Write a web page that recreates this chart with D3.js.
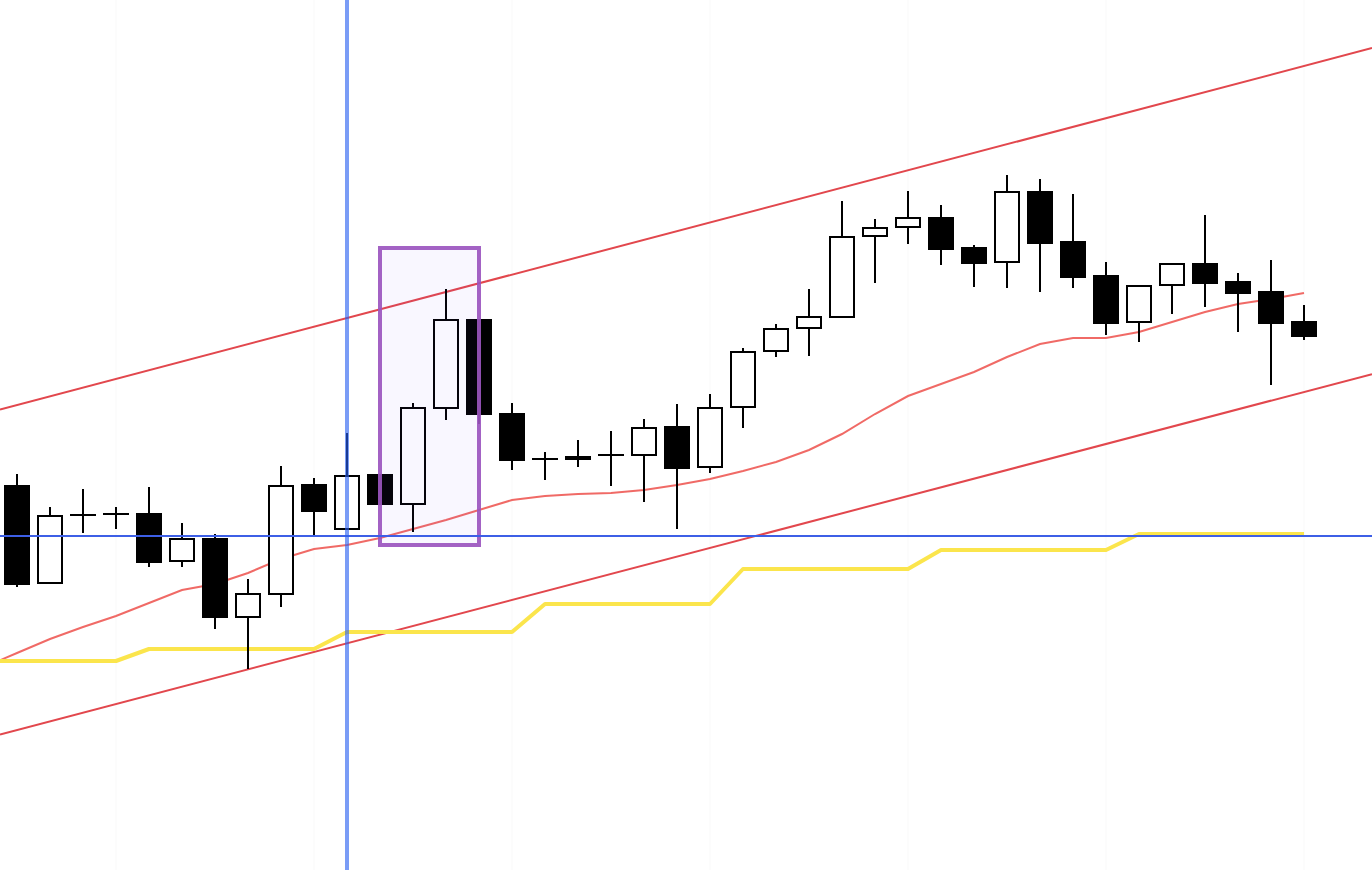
<!DOCTYPE html>
<html>
<head>
<meta charset="utf-8">
<script src="https://cdn.jsdelivr.net/npm/d3@7"></script>
<style>
html,body{margin:0;padding:0;background:#fff;overflow:hidden;}
svg{display:block;}
</style>
</head>
<body>
<svg id="chart" width="1372" height="870"></svg>
<script>
// ---- data ----
const opens  = [147.14,146.17,146.85,146.86,146.86,146.39,146.61,145.83,146.06,147.15,146.71,147.25,146.96,147.92,148.80,147.86,147.41,147.43,147.45,147.45,147.73,147.33,147.93,148.49,148.72,148.83,149.64,149.73,149.82,149.52,149.38,150.08,149.58,149.24,148.78,149.15,149.36,149.18,149.08,148.78];
const highs  = [147.26,146.93,147.11,146.93,147.13,146.77,146.66,146.21,147.34,147.22,147.67,147.25,147.97,149.11,148.80,147.97,147.48,147.60,147.69,147.81,147.96,148.06,148.52,148.76,149.11,149.99,149.81,150.09,149.95,149.55,150.25,150.21,150.06,149.38,149.14,149.36,149.85,149.27,149.40,148.95];
const lows   = [146.13,146.16,146.67,146.71,146.33,146.33,145.71,145.31,145.93,146.64,146.71,146.96,146.68,147.80,147.76,147.30,147.20,147.33,147.14,146.98,146.71,147.27,147.72,148.43,148.44,148.82,149.17,149.56,149.35,149.13,149.12,149.08,149.12,148.65,148.58,148.86,148.93,148.68,148.15,148.60];
const closes = [146.16,146.84,146.85,146.86,146.38,146.61,145.83,146.06,147.14,146.89,147.24,146.96,147.92,148.80,147.86,147.40,147.41,147.41,147.45,147.72,147.32,147.92,148.48,148.71,148.83,149.63,149.72,149.82,149.51,149.37,150.08,149.57,149.23,148.77,149.14,149.36,149.17,149.07,148.77,148.64];
// moving average, starting one bar before the first visible candle (index -1)
const maValues = [145.33,145.47,145.61,145.73,145.84,145.97,146.10,146.16,146.27,146.41,146.51,146.55,146.62,146.71,146.80,146.90,147.00,147.04,147.06,147.07,147.10,147.15,147.21,147.29,147.38,147.50,147.66,147.86,148.04,148.16,148.28,148.43,148.56,148.62,148.62,148.68,148.78,148.88,148.96,149.01,149.07];
// stepped yellow line, also starting at index -1
const stepValues = [145.39,145.39,145.39,145.39,145.39,145.51,145.51,145.51,145.51,145.51,145.51,145.68,145.68,145.68,145.68,145.68,145.68,145.96,145.96,145.96,145.96,145.96,145.96,146.31,146.31,146.31,146.31,146.31,146.31,146.50,146.50,146.50,146.50,146.50,146.50,146.66,146.66,146.66,146.66,146.66,146.66];
// channel lines: [index, price] anchors
const upperChannel = [[0,147.95],[39,151.34]];
const lowerChannel = [[0,144.70],[39,148.08]];
const hLevel = 146.64;
const vLineIndex = 10;
const boxIndexRange = [11,14];
const boxPriceRange = [146.55,149.52];
const gridIndices = [3,9,15,21,27,33,39];
const priceDomain = [143.30,152.00];

// ---- drawing ----
const W = 1372, H = 870;
const svg = d3.select("#chart");
const x = d3.scaleLinear().domain([0,39]).range([17,1304]);
const y = d3.scaleLinear().domain(priceDomain).range([H,0]);
const bodyW = 24;

const candles = opens.map((o,i)=>({i,o,h:highs[i],l:lows[i],c:closes[i]}));

// faint grid
svg.append("g").selectAll("line").data(gridIndices).join("line")
  .attr("x1",d=>x(d)).attr("x2",d=>x(d)).attr("y1",0).attr("y2",H)
  .attr("stroke","#f9f9f9").attr("stroke-width",1);

// channel lines extended across the whole chart
function channel(anchors){
  const [a,b] = anchors;
  const slope = (b[1]-a[1])/(b[0]-a[0]);
  const i0 = x.invert(0), i1 = x.invert(W);
  return [[i0, a[1]+slope*(i0-a[0])],[i1, a[1]+slope*(i1-a[0])]];
}
const lineGen = d3.line().x(d=>x(d[0])).y(d=>y(d[1]));
[upperChannel, lowerChannel].forEach(ch=>{
  svg.append("path").datum(channel(ch)).attr("d",lineGen)
    .attr("fill","none").attr("stroke","#e2474d").attr("stroke-width",2);
});

// moving average
svg.append("path").datum(maValues.map((v,k)=>[k-1,v])).attr("d",lineGen)
  .attr("fill","none").attr("stroke","#ee5a55").attr("stroke-opacity",0.9).attr("stroke-width",2);

// stepped yellow line
svg.append("path").datum(stepValues.map((v,k)=>[k-1,v])).attr("d",lineGen)
  .attr("fill","none").attr("stroke","#fbe54c").attr("stroke-width",4).attr("stroke-linejoin","round");

// candles
const g = svg.append("g");
g.selectAll("line.wick").data(candles).join("line").attr("class","wick")
  .attr("x1",d=>x(d.i)).attr("x2",d=>x(d.i))
  .attr("y1",d=>y(d.h)).attr("y2",d=>y(d.l))
  .attr("stroke","#000").attr("stroke-width",2);
g.selectAll("rect.body").data(candles.filter(d=>Math.abs(d.o-d.c)>=0.03)).join("rect").attr("class","body")
  .attr("x",d=>x(d.i)-bodyW/2)
  .attr("y",d=>y(Math.max(d.o,d.c)))
  .attr("width",bodyW)
  .attr("height",d=>Math.abs(y(d.o)-y(d.c)))
  .attr("fill",d=>d.c>=d.o?"#fff":"#000")
  .attr("stroke","#000").attr("stroke-width",2);
g.selectAll("line.doji").data(candles.filter(d=>Math.abs(d.o-d.c)<0.03)).join("line").attr("class","doji")
  .attr("x1",d=>x(d.i)-bodyW/2-1).attr("x2",d=>x(d.i)+bodyW/2+1)
  .attr("y1",d=>y((d.o+d.c)/2)).attr("y2",d=>y((d.o+d.c)/2))
  .attr("stroke","#000").attr("stroke-width",d=>Math.max(2,Math.abs(y(d.o)-y(d.c))+2));

// highlight box
svg.append("rect")
  .attr("x",x(boxIndexRange[0])).attr("y",y(boxPriceRange[1]))
  .attr("width",x(boxIndexRange[1])-x(boxIndexRange[0]))
  .attr("height",y(boxPriceRange[0])-y(boxPriceRange[1]))
  .attr("fill","#7c4dff").attr("fill-opacity",0.045)
  .attr("stroke","#9b55bf").attr("stroke-opacity",0.92).attr("stroke-width",4);

// horizontal level
svg.append("line").attr("x1",0).attr("x2",W).attr("y1",y(hLevel)).attr("y2",y(hLevel))
  .attr("stroke","#3d5fe6").attr("stroke-width",1.8);

// vertical marker
svg.append("line").attr("x1",x(vLineIndex)).attr("x2",x(vLineIndex)).attr("y1",0).attr("y2",H)
  .attr("stroke","rgb(40,95,240)").attr("stroke-opacity",0.62).attr("stroke-width",4);
</script>
</body>
</html>
